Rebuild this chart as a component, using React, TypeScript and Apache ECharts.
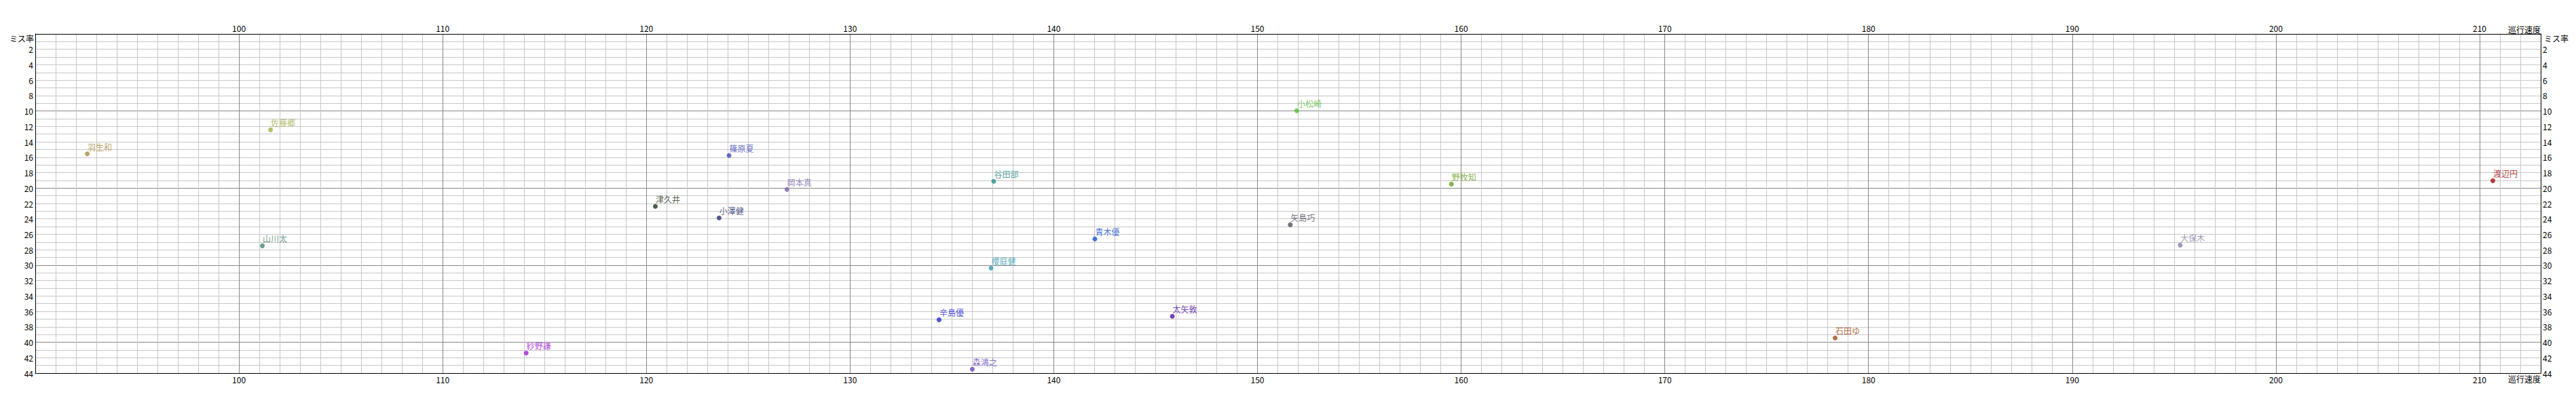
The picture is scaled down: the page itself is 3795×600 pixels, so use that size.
import { useEffect, useRef } from "react";
import * as echarts from "echarts";

// ---- data ----
const names = [
  "羽生和", "佐藤郷", "山川太", "紗野謙", "津久井", "小澤健", "篠原夏", "岡本真",
  "谷田部", "櫻庭健", "辛島優", "森鴻之", "青木優", "太矢敦", "矢島巧", "小松崎",
  "野牧知", "石田ゆ", "大保木", "渡辺円",
];
const speeds = [
  92.55, 101.55, 101.15, 114.1, 120.44, 123.57, 124.06, 126.9,
  137.05, 136.92, 134.37, 136.0, 142.02, 145.82, 151.61, 151.93,
  159.52, 178.36, 195.3, 210.65,
];
const missRates = [
  15.55, 12.44, 27.49, 41.4, 22.38, 23.87, 15.78, 20.18,
  19.12, 30.39, 37.08, 43.5, 26.6, 36.63, 24.76, 9.97,
  19.48, 39.45, 27.4, 19.04,
];
const colors = [
  "#A88C3C", "#A3AD4A", "#4F7F6F", "#A020D0", "#1F3323", "#283070", "#3D48B8", "#7B5FA8",
  "#2E8C8C", "#3A9AB0", "#2828D0", "#6A48C0", "#1A4FC8", "#5010A0", "#505060", "#55C040",
  "#6AA020", "#A04A10", "#8880A8", "#A01010",
];
const xName = "巡行速度";
const yName = "ミス率";

const W = 3795;
const H = 600;
const G = { left: 52, right: 52, top: 50, bottom: 50 };
const FONT = '"Noto Sans CJK JP", "Noto Sans", sans-serif';
const MAJOR = "#888888";
const MINOR = "#c8c8c8";

export default function App() {
  const ref = useRef<HTMLDivElement>(null);
  useEffect(() => {
    document.body.style.margin = "0";
    const chart = echarts.init(ref.current!, null, { renderer: "svg" });
    const axisLabel = { color: "#000", fontSize: 12, fontFamily: FONT };
    const xBase: any = {
      type: "value",
      min: 90,
      max: 213,
      interval: 10,
      axisLine: { show: true, onZero: false, lineStyle: { color: "#000", width: 1 } },
      axisTick: { show: false },
      axisLabel: { ...axisLabel, margin: 3, showMinLabel: false, showMaxLabel: false },
    };
    const yBase: any = {
      type: "value",
      min: 0,
      max: 44,
      interval: 2,
      inverse: true,
      axisLine: { show: true, onZero: false, lineStyle: { color: "#000", width: 1 } },
      axisTick: { show: false },
      axisLabel: { ...axisLabel, margin: 3, showMinLabel: false },
    };
    chart.setOption({
      animation: false,
      grid: { left: G.left, right: G.right, top: G.top, bottom: G.bottom },
      xAxis: [
        {
          ...xBase,
          position: "bottom",
          splitLine: { show: true, lineStyle: { color: MAJOR, width: 1 } },
          minorTick: { show: false, splitNumber: 10 },
          minorSplitLine: { show: true, lineStyle: { color: MINOR, width: 1 } },
        },
        { ...xBase, position: "top", splitLine: { show: false } },
      ],
      yAxis: [
        {
          ...yBase,
          position: "left",
          splitLine: {
            show: true,
            lineStyle: { color: [MAJOR, MINOR, MINOR, MINOR, MINOR], width: 1 },
          },
          minorTick: { show: false, splitNumber: 2 },
          minorSplitLine: { show: true, lineStyle: { color: MINOR, width: 1 } },
        },
        { ...yBase, position: "right", splitLine: { show: false } },
      ],
      graphic: [
        {
          type: "text",
          x: G.left - 2,
          y: G.top,
          style: { text: yName, align: "right", verticalAlign: "top", fontSize: 12, fontFamily: FONT, fill: "#000" },
        },
        {
          type: "text",
          x: W - G.right + 5,
          y: G.top,
          style: { text: yName, align: "left", verticalAlign: "top", fontSize: 12, fontFamily: FONT, fill: "#000" },
        },
        {
          type: "text",
          x: W - G.right,
          y: G.top - 1,
          style: { text: xName, align: "right", verticalAlign: "bottom", fontSize: 12, fontFamily: FONT, fill: "#000" },
        },
        {
          type: "text",
          x: W - G.right,
          y: H - G.bottom + 2,
          style: { text: xName, align: "right", verticalAlign: "top", fontSize: 12, fontFamily: FONT, fill: "#000" },
        },
      ],
      series: [
        {
          type: "scatter",
          xAxisIndex: 0,
          yAxisIndex: 0,
          symbol: "circle",
          symbolSize: 7,
          emphasis: { disabled: true },
          label: {
            show: true,
            formatter: "{b}",
            position: [4, -13],
            align: "left",
            verticalAlign: "top",
            fontSize: 12,
            fontFamily: FONT,
          },
          data: names.map((n, i) => ({
            name: n,
            value: [speeds[i], missRates[i]],
            itemStyle: { color: colors[i] },
            label: { color: colors[i] },
          })),
        },
      ],
    });
    return () => chart.dispose();
  }, []);
  return <div ref={ref} style={{ width: W, height: H }} />;
}
